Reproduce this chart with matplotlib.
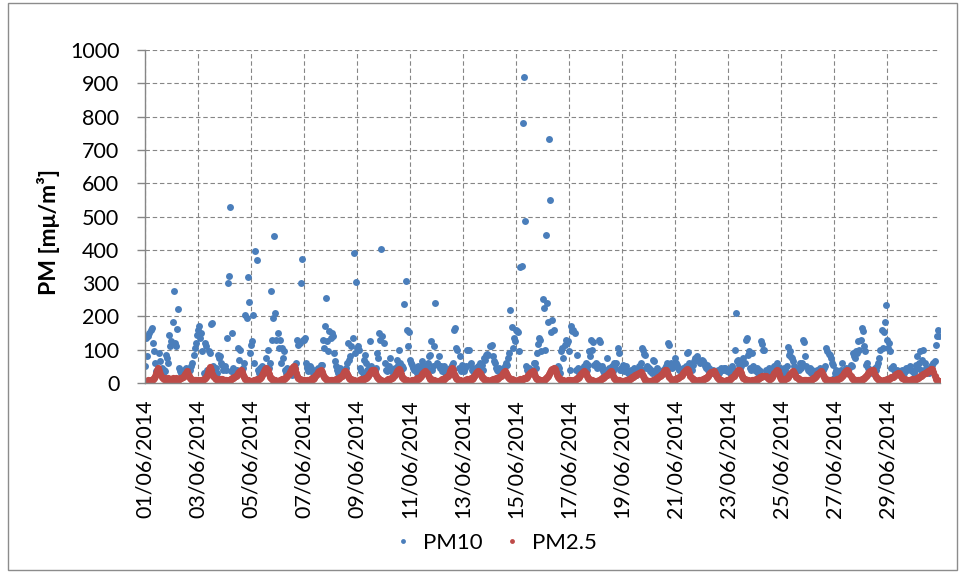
import numpy as np
import pandas as pd
import matplotlib
matplotlib.use('Agg')
import matplotlib.pyplot as plt
import matplotlib.dates as mdates
from matplotlib.patches import Rectangle
from matplotlib.lines import Line2D

plt.rcParams['font.family'] = ['Lato', 'DejaVu Sans']

# PM10 orario [mu/m3], una riga per giorno di giugno 2014 (ore 00 ... 23)
pm10_giorni = [
    [50, 135, 80, 140, 150, 160, 165, 120, 95, 60, 35, 30, 40, 90, 65, 45, 30, 40, 35, 85, 75, 60, 145, 110],
    [125, 184, 277, 120, 110, 162, 222, 45, 35, 30, 25, 40, 30, 45, 30, 25, 35, 40, 50, 60, 85, 105, 120, 145],
    [160, 170, 135, 150, 95, 30, 120, 110, 40, 35, 95, 90, 177, 180, 50, 40, 45, 30, 85, 75, 80, 60, 55, 40],
    [50, 40, 135, 300, 320, 530, 35, 150, 45, 30, 25, 40, 105, 70, 100, 30, 35, 45, 60, 205, 196, 318, 244, 90],
    [115, 125, 204, 60, 395, 370, 40, 30, 45, 35, 50, 45, 30, 40, 75, 100, 45, 60, 276, 130, 195, 440, 210, 130],
    [150, 105, 130, 60, 105, 75, 95, 40, 30, 45, 35, 40, 30, 25, 35, 50, 45, 60, 130, 115, 120, 300, 372, 130],
    [130, 135, 60, 45, 35, 50, 45, 40, 30, 25, 35, 40, 30, 45, 35, 55, 55, 130, 105, 170, 256, 125, 95, 155],
    [135, 150, 140, 90, 65, 50, 40, 30, 35, 45, 30, 25, 35, 40, 45, 60, 120, 70, 80, 110, 135, 391, 90, 302],
    [105, 110, 100, 45, 35, 30, 70, 85, 60, 40, 35, 45, 125, 50, 40, 30, 35, 45, 90, 75, 150, 130, 402, 140],
    [120, 60, 40, 35, 45, 50, 75, 40, 35, 30, 45, 40, 70, 55, 100, 60, 40, 50, 45, 237, 307, 160, 110, 153],
    [70, 60, 55, 45, 40, 35, 30, 50, 40, 35, 45, 65, 55, 40, 35, 45, 60, 80, 85, 125, 40, 50, 110, 241],
    [60, 55, 80, 45, 50, 35, 45, 50, 30, 40, 35, 30, 45, 40, 55, 60, 160, 165, 105, 100, 45, 80, 35, 55],
    [40, 35, 45, 50, 100, 98, 55, 60, 40, 35, 30, 45, 40, 35, 50, 60, 45, 55, 40, 75, 70, 83, 88, 85],
    [112, 110, 115, 80, 65, 60, 45, 40, 35, 45, 30, 40, 35, 45, 50, 60, 55, 75, 90, 218, 168, 105, 135, 125],
    [160, 155, 153, 95, 347, 352, 780, 918, 486, 50, 40, 35, 45, 30, 40, 35, 60, 60, 45, 90, 118, 135, 130, 95],
    [253, 226, 100, 444, 240, 183, 733, 549, 153, 190, 160, 45, 35, 40, 50, 45, 30, 95, 105, 75, 115, 130, 120, 125],
    [95, 40, 170, 155, 160, 150, 40, 85, 45, 30, 40, 35, 30, 45, 50, 60, 40, 55, 95, 80, 130, 100, 124, 55],
    [60, 45, 55, 130, 124, 45, 50, 35, 30, 40, 75, 35, 45, 30, 40, 50, 35, 60, 45, 60, 105, 90, 40, 45],
    [40, 55, 35, 45, 50, 30, 35, 25, 40, 30, 35, 45, 30, 25, 40, 50, 45, 60, 105, 99, 88, 85, 45, 50],
    [45, 35, 40, 30, 70, 65, 35, 30, 45, 40, 35, 25, 30, 40, 35, 45, 50, 60, 120, 114, 60, 45, 55, 50],
    [75, 60, 55, 45, 40, 35, 30, 45, 35, 40, 50, 90, 94, 60, 45, 40, 55, 65, 75, 76, 80, 70, 65, 60],
    [70, 65, 60, 50, 45, 55, 40, 45, 35, 30, 40, 35, 30, 25, 35, 40, 30, 35, 45, 40, 45, 45, 40, 35],
    [35, 40, 30, 45, 50, 40, 100, 211, 65, 70, 55, 45, 50, 60, 75, 60, 130, 135, 85, 95, 45, 40, 90, 50],
    [40, 35, 45, 30, 40, 35, 125, 118, 98, 100, 40, 35, 30, 45, 40, 35, 30, 45, 50, 55, 60, 40, 35, 45],
    [40, 35, 30, 45, 40, 50, 109, 85, 95, 78, 75, 65, 50, 40, 35, 45, 40, 60, 45, 60, 130, 122, 80, 50],
    [40, 35, 45, 30, 40, 35, 30, 25, 35, 40, 30, 45, 35, 30, 40, 45, 50, 105, 95, 88, 85, 75, 60, 55],
    [15, 30, 40, 35, 25, 30, 40, 60, 35, 40, 30, 45, 35, 40, 45, 55, 50, 90, 80, 75, 95, 90, 125, 100],
    [128, 164, 155, 110, 95, 55, 60, 45, 40, 35, 30, 40, 35, 45, 40, 50, 60, 75, 100, 160, 105, 152, 183, 233],
    [130, 105, 120, 95, 45, 50, 40, 35, 30, 40, 35, 30, 25, 35, 40, 30, 35, 45, 40, 45, 45, 50, 40, 35],
    [30, 40, 55, 80, 45, 60, 96, 40, 70, 100, 60, 45, 35, 40, 30, 45, 50, 55, 60, 65, 115, 140, 160, 140],
]

# PM2.5 orario [mu/m3], stesse ore
pm25_giorni = [
    [5, 4, 6, 8, 7, 9, 10, 12, 16, 22, 30, 38, 45, 36, 26, 18, 14, 12, 15, 13, 11, 14, 12, 10],
    [12, 14, 11, 13, 15, 12, 10, 13, 16, 14, 18, 22, 27, 31, 35, 28, 20, 14, 11, 9, 8, 10, 9, 7],
    [8, 6, 7, 9, 10, 12, 14, 18, 25, 33, 41, 47, 38, 28, 20, 16, 13, 11, 12, 10, 9, 11, 13, 10],
    [9, 8, 7, 6, 8, 10, 12, 15, 14, 17, 21, 25, 29, 33, 37, 40, 34, 24, 17, 13, 10, 8, 7, 6],
    [6, 5, 7, 8, 9, 11, 13, 12, 15, 18, 24, 30, 36, 42, 45, 38, 27, 19, 15, 12, 10, 9, 8, 7],
    [7, 6, 8, 9, 11, 13, 12, 14, 17, 21, 26, 32, 38, 44, 48, 50, 42, 31, 22, 16, 12, 10, 9, 8],
    [8, 7, 6, 8, 9, 10, 12, 14, 13, 16, 20, 24, 28, 33, 37, 40, 33, 24, 18, 14, 11, 9, 8, 10],
    [9, 8, 7, 9, 10, 12, 11, 13, 15, 18, 22, 27, 32, 36, 34, 28, 21, 16, 13, 11, 9, 8, 7, 6],
    [7, 6, 8, 10, 12, 11, 13, 15, 14, 17, 21, 26, 31, 35, 38, 40, 34, 25, 18, 14, 11, 9, 8, 7],
    [6, 5, 7, 9, 11, 13, 12, 14, 16, 19, 24, 30, 36, 40, 42, 35, 26, 19, 14, 11, 9, 8, 7, 6],
    [6, 7, 8, 9, 10, 12, 14, 13, 15, 18, 22, 27, 31, 34, 36, 30, 23, 17, 13, 11, 10, 9, 8, 7],
    [7, 6, 5, 7, 9, 11, 10, 12, 14, 17, 22, 28, 35, 41, 45, 38, 28, 20, 15, 12, 10, 8, 7, 6],
    [6, 7, 8, 9, 11, 10, 12, 14, 13, 16, 20, 24, 29, 33, 35, 30, 23, 17, 14, 12, 10, 9, 8, 7],
    [7, 8, 9, 11, 10, 12, 14, 13, 15, 17, 21, 25, 30, 34, 36, 31, 24, 18, 14, 12, 11, 9, 8, 7],
    [6, 7, 8, 10, 12, 11, 13, 15, 14, 16, 19, 23, 27, 31, 34, 36, 30, 22, 16, 13, 11, 9, 8, 7],
    [8, 10, 12, 15, 18, 22, 27, 33, 39, 43, 45, 41, 33, 25, 19, 15, 12, 10, 9, 8, 7, 6, 7, 8],
    [9, 8, 7, 6, 8, 10, 12, 14, 16, 19, 23, 27, 31, 34, 35, 29, 21, 15, 12, 10, 9, 8, 7, 6],
    [6, 5, 7, 8, 10, 12, 14, 16, 18, 21, 24, 28, 31, 34, 35, 30, 22, 16, 12, 10, 9, 8, 7, 6],
    [6, 5, 6, 7, 8, 10, 11, 13, 15, 17, 19, 21, 23, 25, 27, 29, 31, 33, 28, 20, 14, 10, 8, 7],
    [6, 5, 6, 7, 8, 9, 11, 13, 15, 18, 21, 24, 27, 31, 35, 38, 40, 33, 24, 17, 12, 10, 9, 10],
    [11, 12, 14, 16, 18, 21, 25, 29, 33, 37, 40, 42, 38, 30, 22, 16, 12, 10, 8, 7, 6, 7, 8, 9],
    [10, 11, 12, 14, 16, 19, 22, 26, 29, 32, 34, 35, 31, 24, 18, 14, 11, 9, 8, 7, 6, 6, 7, 8],
    [9, 10, 12, 15, 18, 22, 26, 30, 34, 38, 40, 36, 29, 22, 16, 12, 10, 9, 8, 7, 6, 7, 8, 9],
    [10, 11, 12, 13, 15, 17, 19, 21, 22, 22, 20, 17, 14, 12, 13, 15, 19, 24, 30, 36, 40, 35, 26, 18],
    [13, 10, 9, 11, 13, 16, 19, 23, 27, 31, 34, 35, 31, 25, 19, 15, 12, 10, 9, 8, 7, 8, 9, 10],
    [9, 8, 9, 10, 12, 14, 16, 19, 22, 26, 30, 33, 35, 30, 23, 17, 13, 11, 10, 9, 8, 8, 9, 8],
    [7, 8, 9, 11, 13, 15, 18, 21, 25, 29, 33, 37, 40, 35, 27, 20, 15, 12, 10, 9, 8, 7, 8, 9],
    [10, 11, 13, 15, 18, 21, 25, 29, 33, 37, 40, 38, 31, 24, 18, 14, 11, 9, 8, 7, 7, 8, 9, 10],
    [11, 12, 13, 15, 17, 19, 21, 24, 26, 28, 30, 29, 25, 20, 16, 13, 11, 9, 8, 7, 8, 9, 10, 11],
    [12, 11, 13, 14, 16, 18, 20, 22, 25, 27, 29, 31, 33, 35, 37, 39, 41, 42, 33, 22, 12, 8, 6, 5],
]

for riga in pm10_giorni + pm25_giorni:
    assert len(riga) == 24, len(riga)

pm10 = np.concatenate(pm10_giorni)
pm25 = np.concatenate(pm25_giorni)
ore = pd.date_range('2014-06-01 00:00', periods=len(pm10), freq='h')

blu = '#4a7ebb'
rosso = '#be4b48'
grigio = '#868686'

fig = plt.figure(figsize=(9.66, 5.79), dpi=100)
ax = fig.add_axes([0.1501, 0.3385, 0.8230, 0.5751])

ax.plot(ore, pm10, 'o', color=blu, markersize=5.0, markeredgewidth=0, label='PM10')
ax.plot(ore, pm25, 'o', color=rosso, markersize=5.2, markeredgewidth=0, label='PM2.5')

ax.set_ylim(0, 1000)
ax.set_yticks(np.arange(0, 1001, 100))
ax.set_xlim(pd.Timestamp('2014-06-01 00:00'), pd.Timestamp('2014-06-30 23:59'))
ax.xaxis.set_major_locator(mdates.DayLocator(bymonthday=range(1, 30, 2)))
ax.xaxis.set_minor_locator(mdates.DayLocator(bymonthday=range(1, 30, 4)))
ax.xaxis.set_major_formatter(mdates.DateFormatter('%d/%m/%Y'))

ax.grid(which='major', color=grigio, linestyle=(0, (4, 2.5)), linewidth=0.8)
ax.set_axisbelow(True)

for lato in ['top', 'right']:
    ax.spines[lato].set_visible(False)
for lato in ['left', 'bottom']:
    ax.spines[lato].set_color(grigio)
    ax.spines[lato].set_linewidth(1)

ax.tick_params(axis='y', length=5.5, width=1, color=grigio, pad=13, labelsize=15.5)
ax.tick_params(axis='x', which='major', length=0, pad=12, labelsize=15.5, labelrotation=90)
ax.tick_params(axis='x', which='minor', length=5, width=1, color=grigio)

fig.text(48 / 966, 1 - 232 / 579, 'PM [mμ/m³]', rotation=90, ha='center', va='center',
         fontsize=16.5, fontweight='bold')

# legenda in basso
simboli = [Line2D([], [], marker='o', linestyle='', color=blu, markersize=3.5, markeredgewidth=0),
           Line2D([], [], marker='o', linestyle='', color=rosso, markersize=3.5, markeredgewidth=0)]
fig.legend(simboli, ['PM10', 'PM2.5'], loc='center', bbox_to_anchor=(0.513, 0.062), ncol=2,
           frameon=False, fontsize=16, handlelength=0.8, handletextpad=0.5, columnspacing=0.9)

# cornice dell'area grafico
fig.patches.append(Rectangle((8 / 966, 1 - 570 / 579), 949 / 966, 567 / 579, transform=fig.transFigure,
                             fill=False, edgecolor='#8c8c8c', linewidth=1))

fig.savefig('out.png', dpi=100)
